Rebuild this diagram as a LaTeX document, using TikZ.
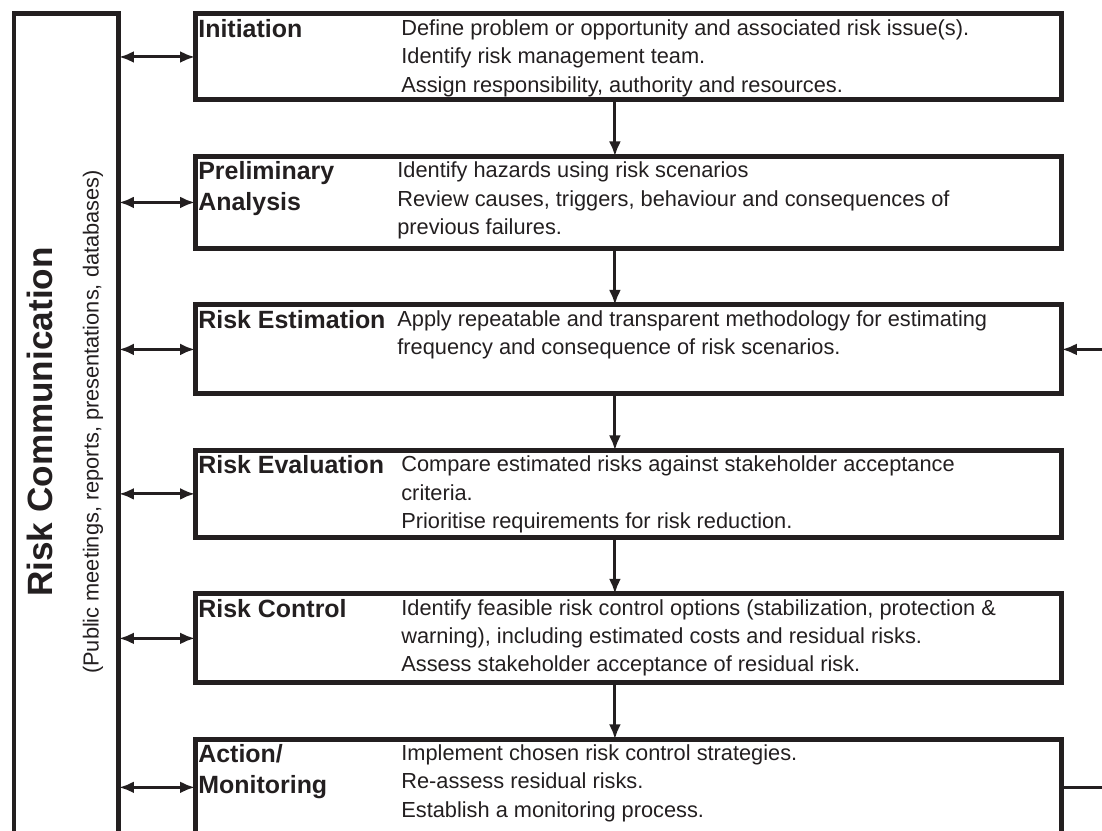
\documentclass[tikz,border=0pt]{standalone}
\usepackage{fontspec}
\setmainfont{Liberation Sans}
\usepackage{tikz}
\usetikzlibrary{positioning,calc}
\usetikzlibrary{arrows.meta}
\definecolor{ink}{RGB}{35,31,32}
\tikzset{flowarrow/.style={draw=ink, line width=0.06cm, -{Latex[length=0.3cm,width=0.24cm]}}}
\tikzset{commarrow/.style={draw=ink, line width=0.06cm, {Latex[length=0.3cm,width=0.24cm]}-{Latex[length=0.3cm,width=0.24cm]}}}

\begin{document}
\begin{tikzpicture}[x=0.02cm, y=-0.02cm,
	stage/.style={draw=ink, line width=0.1cm, outer sep=0pt, inner sep=0pt, minimum width=17.34cm, minimum height=#1, anchor=north west},
	stagelabel/.style={anchor=north west, inner sep=0pt, align=left, text=ink, font=\bfseries\fontsize{14.2}{17.5}\selectfont},
	stagetext/.style={anchor=north west, inner sep=0pt, align=left, text=ink, font=\fontsize{12.4}{16.2}\selectfont}]
	
	\useasboundingbox (0,0) rectangle (1102,831);
	\clip (0,0) rectangle (1102,831);
	
	% COMMUNICATION
	
	\node [draw=ink, line width=0.1cm, outer sep=0pt, minimum width=2.1cm, minimum height=16.9cm, anchor=north west] (comm) at (14,14) {};
	\node [rotate=90, text=ink, font=\bfseries\fontsize{20}{24}\selectfont] (commtitle) at (40,422) {Risk Communication};
	\node [rotate=90, text=ink, font=\fontsize{12.4}{14}\selectfont] (commsub) at (93,422) {(Public meetings, reports, presentations, databases)};
	
	% STAGES
	
	\node [stage=1.72cm] (init) at (195,14) {};
	\node [stage=1.84cm, below=1.13cm of init] (prelim) {};
	\node [stage=1.78cm, below=1.13cm of prelim] (est) {};
	\node [stage=1.74cm, below=1.13cm of est] (eval) {};
	\node [stage=1.78cm, below=1.13cm of eval] (ctrl) {};
	\node [stage=1.92cm, below=1.13cm of ctrl] (act) {};
	
	\node [stagelabel] (initlbl) at ($(init.north west)+(3,5)$) {Initiation};
	\node [stagetext] (inittxt) at ($(init.north west)+(206,5)$)
	{Define problem or opportunity and associated risk issue(s).\\
		Identify risk management team.\\
		Assign responsibility, authority and resources.};
	
	\node [stagelabel] (prelimlbl) at ($(prelim.north west)+(3,5)$) {Preliminary\\Analysis};
	\node [stagetext] (prelimtxt) at ($(prelim.north west)+(202,5)$)
	{Identify hazards using risk scenarios\\
		Review causes, triggers, behaviour and consequences of\\
		previous failures.};
	
	\node [stagelabel] (estlbl) at ($(est.north west)+(3,5)$) {Risk Estimation};
	\node [stagetext] (esttxt) at ($(est.north west)+(202,5)$)
	{Apply repeatable and transparent methodology for estimating\\
		frequency and consequence of risk scenarios.};
	
	\node [stagelabel] (evallbl) at ($(eval.north west)+(3,5)$) {Risk Evaluation};
	\node [stagetext] (evaltxt) at ($(eval.north west)+(206,5)$)
	{Compare estimated risks against stakeholder acceptance\\
		criteria.\\
		Prioritise requirements for risk reduction.};
	
	\node [stagelabel] (ctrllbl) at ($(ctrl.north west)+(3,5)$) {Risk Control};
	\node [stagetext] (ctrltxt) at ($(ctrl.north west)+(206,5)$)
	{Identify feasible risk control options (stabilization, protection \&\\
		warning), including estimated costs and residual risks.\\
		Assess stakeholder acceptance of residual risk.};
	
	\node [stagelabel] (actlbl) at ($(act.north west)+(3,5)$) {Action/\\Monitoring};
	\node [stagetext] (acttxt) at ($(act.north west)+(206,5)$)
	{Implement chosen risk control strategies.\\
		Re-assess residual risks.\\
		Establish a monitoring process.};
	
	% ARROWS
	
	\draw [flowarrow] ([xshift=-0.27cm]init.south) -- ([xshift=-0.27cm]prelim.north);
	\draw [flowarrow] ([xshift=-0.27cm]prelim.south) -- ([xshift=-0.27cm]est.north);
	\draw [flowarrow] ([xshift=-0.27cm]est.south) -- ([xshift=-0.27cm]eval.north);
	\draw [flowarrow] ([xshift=-0.27cm]eval.south) -- ([xshift=-0.27cm]ctrl.north);
	\draw [flowarrow] ([xshift=-0.27cm]ctrl.south) -- ([xshift=-0.27cm]act.north);
	
	\foreach \s in {init,prelim,est,eval,ctrl,act}
	\draw [commarrow] (\s.west -| comm.east) -- (\s.west);
	
	\draw [flowarrow] (act.east) -- ++(60,0) |- (est.east);
	
\end{tikzpicture}
\end{document}
